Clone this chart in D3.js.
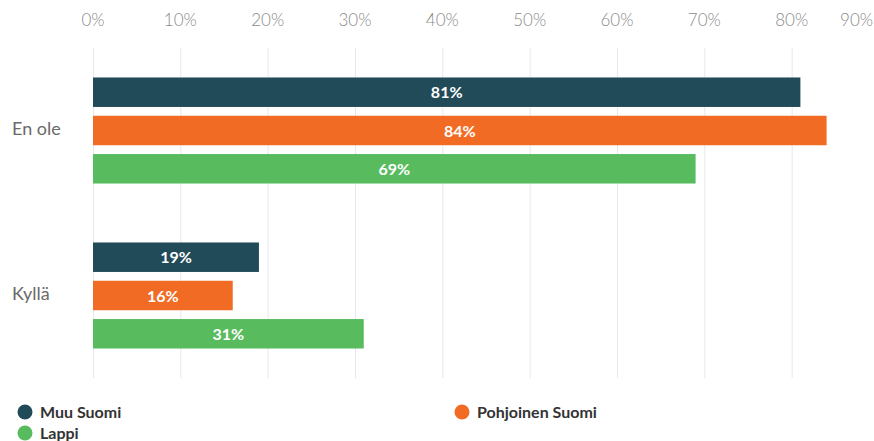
<!DOCTYPE html>
<html>
  <head>
    <meta charset="utf-8" />
    <script src="https://d3js.org/d3.v7.min.js"></script>
    <style>
      body { margin: 0; background: #fff; }
      text { font-family: "Lato", "Noto Sans", sans-serif; }
    </style>
  </head>
  <body>
    <svg id="canvas" width="874" height="441"></svg>
    <script>
      const categories = ["En ole", "Kyllä"];
      const series = ["Muu Suomi", "Pohjoinen Suomi", "Lappi"];
      const colors = ["#224b5a", "#f26b24", "#58bc5f"];
      // values in %, one array per series, in category order
      const muuSuomi = [81, 19];
      const pohjoinenSuomi = [84, 16];
      const lappi = [69, 31];
      const ticks = [0, 10, 20, 30, 40, 50, 60, 70, 80, 90];

      const values = [muuSuomi, pohjoinenSuomi, lappi];
      const W = 874;
      const svg = d3.select("#canvas");

      let x = d3.scaleLinear().domain([0, 90]).range([93, 879]);
      let y = d3.scaleBand().domain(categories).range([48, 378]);
      let yInner = d3
        .scaleBand()
        .domain(series)
        .range([0, y.bandwidth()])
        .paddingInner(0.23)
        .paddingOuter(0.77);

      // gridlines
      svg
        .append("g")
        .selectAll("line")
        .data(ticks)
        .enter()
        .append("line")
        .attr("x1", (d) => x(d) + 0.5)
        .attr("x2", (d) => x(d) + 0.5)
        .attr("y1", 48)
        .attr("y2", 378)
        .style("stroke", "#e6e8eb")
        .style("stroke-width", 1);

      // tick labels on top (last one pushed in so it stays visible)
      svg
        .append("g")
        .selectAll("text")
        .data(ticks)
        .enter()
        .append("text")
        .attr("x", (d) => x(d))
        .attr("y", 26)
        .attr("text-anchor", "middle")
        .style("font-size", "17px")
        .style("font-weight", 300)
        .style("fill", "#8a8a8a")
        .text((d) => d + "%")
        .each(function () {
          let b = this.getBBox();
          if (b.x + b.width > W - 1) {
            d3.select(this).attr("x", W - 1 - b.width / 2);
          }
        });

      // category labels
      svg
        .append("g")
        .selectAll("text")
        .data(categories)
        .enter()
        .append("text")
        .attr("x", 12)
        .attr("y", (d) => y(d) + y.bandwidth() / 2 + 4)
        .style("font-size", "18px")
        .style("fill", "#6a6a6a")
        .text((d) => d);

      // bars
      series.forEach((s, i) => {
        let rows = categories.map((c, j) => ({ cat: c, value: values[i][j] }));
        let g = svg.append("g");
        g.selectAll("rect")
          .data(rows)
          .enter()
          .append("rect")
          .attr("x", x(0))
          .attr("y", (d) => y(d.cat) + yInner(s))
          .attr("width", (d) => x(d.value) - x(0))
          .attr("height", yInner.bandwidth())
          .attr("fill", colors[i]);
        g.selectAll("text")
          .data(rows)
          .enter()
          .append("text")
          .attr("x", (d) => (x(0) + x(d.value)) / 2)
          .attr("y", (d) => y(d.cat) + yInner(s) + yInner.bandwidth() / 2 + 6)
          .attr("text-anchor", "middle")
          .style("font-size", "16px")
          .style("font-weight", "bold")
          .style("fill", "#fff")
          .text((d) => d.value + "%");
      });

      // legend
      const legendPos = [
        [25, 412],
        [462, 412],
        [25, 433],
      ];
      const legend = svg
        .append("g")
        .selectAll("g")
        .data(series)
        .enter()
        .append("g")
        .attr("transform", (d, i) => `translate(${legendPos[i][0]},${legendPos[i][1]})`);
      legend
        .append("circle")
        .attr("r", 7.5)
        .attr("fill", (d, i) => colors[i]);
      legend
        .append("text")
        .attr("x", 15)
        .attr("y", 6)
        .style("font-size", "16px")
        .style("font-weight", "bold")
        .style("fill", "#333")
        .text((d) => d);
    </script>
  </body>
</html>
